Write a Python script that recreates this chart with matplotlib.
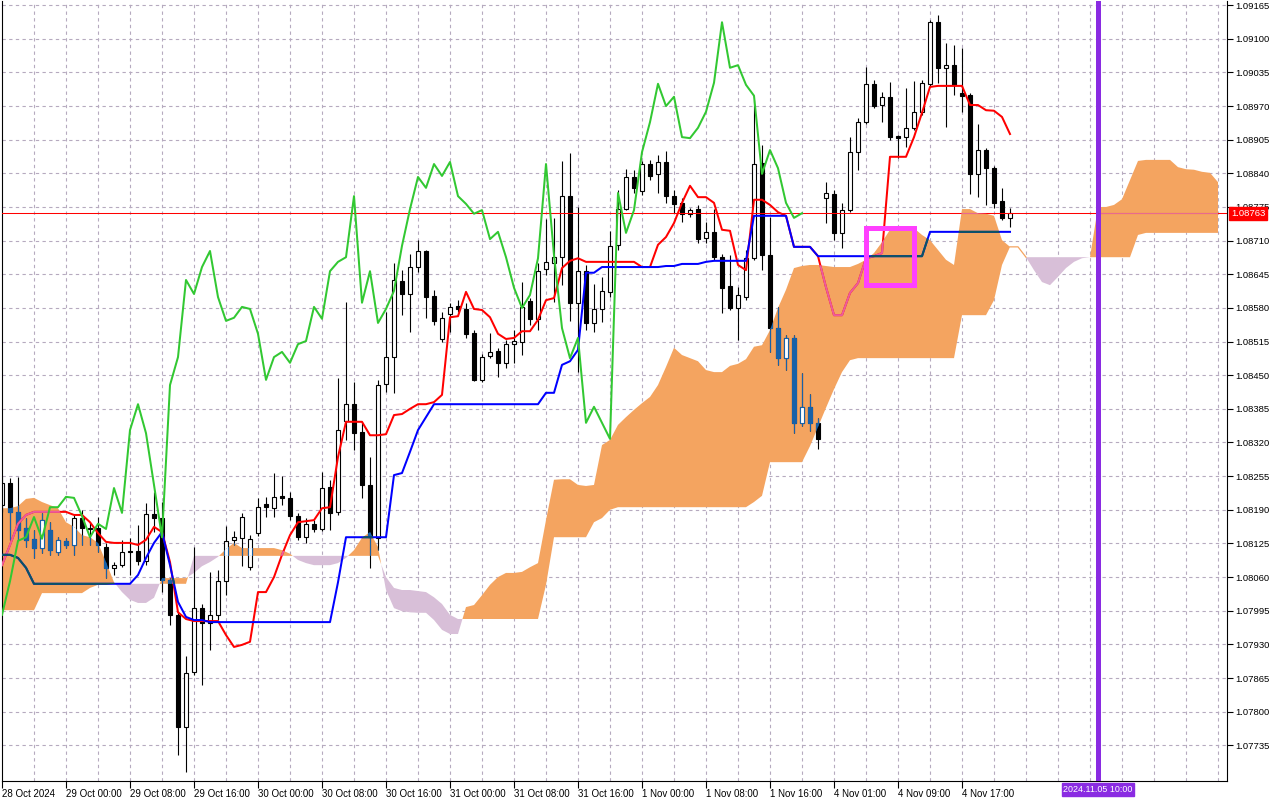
import numpy as np
import matplotlib
matplotlib.use("Agg")
import matplotlib.pyplot as plt
from matplotlib.path import Path
from matplotlib.patches import Rectangle
from matplotlib.transforms import blended_transform_factory

plt.rcParams['font.family'] = ['Liberation Sans', 'DejaVu Sans']

# ---------------- data (EURUSD H1) ----------------
opens = [1.08199, 1.08242, 1.08186, 1.08155, 1.08134, 1.08116, 1.08151, 1.08108, 1.08130, 1.08122,
         1.08174, 1.08155, 1.08155, 1.08118, 1.08078, 1.08083, 1.08110, 1.08110, 1.08091, 1.08182,
         1.08174, 1.08054, 1.07987, 1.07770, 1.07877, 1.08000, 1.07971, 1.07987, 1.08052, 1.08132,
         1.08136, 1.08079, 1.08145, 1.08201, 1.08193, 1.08217, 1.08213, 1.08178, 1.08137, 1.08163,
         1.08153, 1.08234, 1.08186, 1.08362, 1.08394, 1.08340, 1.08238, 1.08136, 1.08433, 1.08485,
         1.08632, 1.08607, 1.08659, 1.08690, 1.08603, 1.08520, 1.08568, 1.08584, 1.08578, 1.08532,
         1.08441, 1.08487, 1.08497, 1.08474, 1.08510, 1.08514, 1.08593, 1.08559, 1.08655, 1.08667,
         1.08678, 1.08796, 1.08590, 1.08651, 1.08551, 1.08578, 1.08611, 1.08702, 1.08771, 1.08833,
         1.08806, 1.08858, 1.08839, 1.08862, 1.08796, 1.08783, 1.08762, 1.08771, 1.08715, 1.08727,
         1.08678, 1.08622, 1.08580, 1.08601, 1.08676, 1.08860, 1.08682, 1.08541, 1.08483, 1.08522,
         1.08358, 1.08389, 1.08358, 1.08792, 1.08800, 1.08725, 1.08769, 1.08881, 1.08939, 1.09013,
         1.08972, 1.08988, 1.08912, 1.08910, 1.08928, 1.08959, 1.09013, 1.09132, 1.09044, 1.09049,
         1.08995, 1.08991, 1.08839, 1.08885, 1.08850, 1.08787, 1.08754]
highs = [1.08255, 1.08251, 1.08253, 1.08174, 1.08151, 1.08184, 1.08166, 1.08137, 1.08136, 1.08180,
         1.08190, 1.08166, 1.08176, 1.08126, 1.08089, 1.08132, 1.08136, 1.08161, 1.08203, 1.08224,
         1.08205, 1.08058, 1.07992, 1.07907, 1.08118, 1.08008, 1.08070, 1.08074, 1.08159, 1.08149,
         1.08184, 1.08141, 1.08213, 1.08215, 1.08261, 1.08255, 1.08224, 1.08184, 1.08174, 1.08170,
         1.08263, 1.08248, 1.08445, 1.08592, 1.08437, 1.08360, 1.08292, 1.08441, 1.08572, 1.08667,
         1.08653, 1.08684, 1.08711, 1.08692, 1.08615, 1.08572, 1.08590, 1.08595, 1.08590, 1.08537,
         1.08491, 1.08532, 1.08503, 1.08518, 1.08537, 1.08630, 1.08599, 1.08667, 1.08752, 1.08754,
         1.08864, 1.08879, 1.08775, 1.08663, 1.08626, 1.08640, 1.08729, 1.08808, 1.08848, 1.08847,
         1.08864, 1.08866, 1.08876, 1.08883, 1.08808, 1.08792, 1.08773, 1.08779, 1.08746, 1.08771,
         1.08684, 1.08682, 1.08620, 1.08692, 1.08982, 1.08895, 1.08756, 1.08582, 1.08528, 1.08528,
         1.08454, 1.08414, 1.08367, 1.08823, 1.08808, 1.08783, 1.08910, 1.08947, 1.09046, 1.09020,
         1.08997, 1.09017, 1.08914, 1.09005, 1.09018, 1.09020, 1.09136, 1.09146, 1.09092, 1.09088,
         1.09082, 1.08995, 1.08935, 1.08889, 1.08854, 1.08812, 1.08773]
lows = [1.08186, 1.08132, 1.08132, 1.08118, 1.08097, 1.08107, 1.08103, 1.08103, 1.08116, 1.08103,
        1.08122, 1.08122, 1.08108, 1.08058, 1.08064, 1.08079, 1.08064, 1.08083, 1.08083, 1.08147,
        1.08031, 1.07967, 1.07716, 1.07683, 1.07871, 1.07851, 1.07919, 1.07977, 1.08025, 1.08122,
        1.08081, 1.08074, 1.08139, 1.08176, 1.08176, 1.08199, 1.08170, 1.08132, 1.08126, 1.08147,
        1.08149, 1.08151, 1.08180, 1.08325, 1.08306, 1.08213, 1.08078, 1.08112, 1.08418, 1.08416,
        1.08566, 1.08534, 1.08649, 1.08561, 1.08547, 1.08514, 1.08534, 1.08572, 1.08522, 1.08439,
        1.08437, 1.08483, 1.08447, 1.08464, 1.08474, 1.08489, 1.08547, 1.08537, 1.08644, 1.08591,
        1.08624, 1.08555, 1.08456, 1.08537, 1.08534, 1.08553, 1.08601, 1.08692, 1.08769, 1.08802,
        1.08798, 1.08827, 1.08802, 1.08783, 1.08763, 1.08746, 1.08756, 1.08705, 1.08705, 1.08673,
        1.08570, 1.08576, 1.08518, 1.08595, 1.08673, 1.08653, 1.08495, 1.08470, 1.08460, 1.08338,
        1.08352, 1.08342, 1.08307, 1.08744, 1.08711, 1.08696, 1.08765, 1.08847, 1.08935, 1.08966,
        1.08939, 1.08904, 1.08870, 1.08891, 1.08924, 1.08953, 1.09009, 1.09015, 1.08930, 1.08991,
        1.08959, 1.08800, 1.08794, 1.08779, 1.08773, 1.08750, 1.08736]
closes = [1.08242, 1.08186, 1.08151, 1.08132, 1.08116, 1.08170, 1.08112, 1.08132, 1.08122, 1.08174,
          1.08155, 1.08153, 1.08122, 1.08078, 1.08083, 1.08108, 1.08108, 1.08091, 1.08182, 1.08174,
          1.08054, 1.07987, 1.07770, 1.07875, 1.08000, 1.07971, 1.07987, 1.08052, 1.08130, 1.08137,
          1.08176, 1.08134, 1.08195, 1.08195, 1.08215, 1.08213, 1.08178, 1.08137, 1.08163, 1.08153,
          1.08232, 1.08184, 1.08344, 1.08394, 1.08338, 1.08238, 1.08137, 1.08431, 1.08485, 1.08634,
          1.08607, 1.08659, 1.08690, 1.08601, 1.08555, 1.08561, 1.08582, 1.08578, 1.08530, 1.08441,
          1.08485, 1.08495, 1.08474, 1.08510, 1.08516, 1.08582, 1.08559, 1.08651, 1.08669, 1.08678,
          1.08796, 1.08590, 1.08651, 1.08551, 1.08578, 1.08613, 1.08700, 1.08771, 1.08833, 1.08812,
          1.08858, 1.08835, 1.08862, 1.08796, 1.08781, 1.08762, 1.08769, 1.08713, 1.08727, 1.08678,
          1.08619, 1.08580, 1.08605, 1.08676, 1.08858, 1.08682, 1.08541, 1.08483, 1.08522, 1.08358,
          1.08389, 1.08358, 1.08327, 1.08802, 1.08725, 1.08769, 1.08881, 1.08939, 1.09013, 1.08970,
          1.08988, 1.08910, 1.08908, 1.08928, 1.08959, 1.09015, 1.09132, 1.09044, 1.09049, 1.09011,
          1.08990, 1.08839, 1.08885, 1.08850, 1.08783, 1.08754, 1.08763]

tenkan = [1.08083, 1.08122, 1.08163, 1.08180, 1.08186, 1.08186, 1.08186, 1.08186, 1.08186, 1.08180,
          1.08180, 1.08166, 1.08145, 1.08128, 1.08126, 1.08126, 1.08126, 1.08122, 1.08132, 1.08157,
          1.08147, 1.08089, 1.07992, 1.07979, 1.07975, 1.07975, 1.07975, 1.07975, 1.07948, 1.07925,
          1.07929, 1.07935, 1.08031, 1.08031, 1.08060, 1.08103, 1.08141, 1.08166, 1.08168, 1.08170,
          1.08193, 1.08195, 1.08292, 1.08360, 1.08360, 1.08360, 1.08334, 1.08334, 1.08336, 1.08373,
          1.08375, 1.08385, 1.08394, 1.08394, 1.08398, 1.08412, 1.08562, 1.08564, 1.08611, 1.08578,
          1.08576, 1.08562, 1.08530, 1.08520, 1.08522, 1.08535, 1.08535, 1.08557, 1.08595, 1.08599,
          1.08657, 1.08671, 1.08676, 1.08669, 1.08669, 1.08669, 1.08669, 1.08669, 1.08669, 1.08669,
          1.08659, 1.08659, 1.08702, 1.08717, 1.08744, 1.08783, 1.08816, 1.08794, 1.08794, 1.08783,
          1.08731, 1.08729, 1.08663, 1.08653, 1.08789, 1.08789, 1.08779, 1.08765, 1.08758, 1.08698,
          1.08698, 1.08698, 1.08680, 1.08620, 1.08566, 1.08566, 1.08609, 1.08628, 1.08676, 1.08680,
          1.08686, 1.08872, 1.08872, 1.08872, 1.08910, 1.08957, 1.09007, 1.09009, 1.09009, 1.09009,
          1.09009, 1.08972, 1.08972, 1.08962, 1.08961, 1.08949, 1.08916]
kijun = [1.08103, 1.08103, 1.08097, 1.08078, 1.08047, 1.08047, 1.08047, 1.08047, 1.08047, 1.08047,
         1.08047, 1.08047, 1.08047, 1.08047, 1.08047, 1.08047, 1.08047, 1.08064, 1.08097, 1.08126,
         1.08147, 1.08083, 1.08012, 1.07983, 1.07977, 1.07977, 1.07973, 1.07973, 1.07973, 1.07973,
         1.07973, 1.07973, 1.07973, 1.07973, 1.07973, 1.07973, 1.07973, 1.07973, 1.07973, 1.07973,
         1.07973, 1.07973, 1.08050, 1.08137, 1.08137, 1.08137, 1.08137, 1.08137, 1.08137, 1.08257,
         1.08261, 1.08302, 1.08344, 1.08369, 1.08394, 1.08394, 1.08394, 1.08394, 1.08394, 1.08394,
         1.08394, 1.08394, 1.08394, 1.08394, 1.08394, 1.08394, 1.08394, 1.08394, 1.08416, 1.08416,
         1.08470, 1.08477, 1.08499, 1.08648, 1.08648, 1.08659, 1.08659, 1.08659, 1.08659, 1.08659,
         1.08659, 1.08659, 1.08659, 1.08661, 1.08661, 1.08665, 1.08665, 1.08665, 1.08669, 1.08671,
         1.08671, 1.08671, 1.08671, 1.08671, 1.08758, 1.08758, 1.08758, 1.08758, 1.08758, 1.08698,
         1.08698, 1.08698, 1.08680, 1.08680, 1.08680, 1.08680, 1.08680, 1.08680, 1.08680, 1.08680,
         1.08680, 1.08680, 1.08680, 1.08680, 1.08680, 1.08680, 1.08727, 1.08727, 1.08727, 1.08727,
         1.08727, 1.08727, 1.08727, 1.08727, 1.08727, 1.08727, 1.08727]
# Senkou spans, already shifted 26 bars ahead (127 + 26 values)
span_a = [1.08193, 1.08193, 1.08197, 1.08211, 1.08213, 1.08205, 1.08199, 1.08193, 1.08166, 1.08157,
          1.08141, 1.08137, 1.08126, 1.08089, 1.08050, 1.08031, 1.08016, 1.08010, 1.08010, 1.08020,
          1.08058, 1.08058, 1.08058, 1.08058, 1.08068, 1.08081, 1.08089, 1.08099, 1.08114, 1.08126,
          1.08116, 1.08116, 1.08116, 1.08116, 1.08116, 1.08112, 1.08105, 1.08093, 1.08087, 1.08083,
          1.08083, 1.08083, 1.08087, 1.08097, 1.08112, 1.08136, 1.08147, 1.08118, 1.08035, 1.08000,
          1.07994, 1.07992, 1.07991, 1.07991, 1.07977, 1.07958, 1.07950, 1.07950, 1.08002, 1.08006,
          1.08025, 1.08045, 1.08060, 1.08068, 1.08068, 1.08070, 1.08079, 1.08087, 1.08170, 1.08248,
          1.08249, 1.08249, 1.08238, 1.08236, 1.08238, 1.08315, 1.08325, 1.08354, 1.08369, 1.08383,
          1.08396, 1.08408, 1.08431, 1.08466, 1.08503, 1.08489, 1.08483, 1.08477, 1.08460, 1.08456,
          1.08456, 1.08468, 1.08472, 1.08481, 1.08505, 1.08508, 1.08537, 1.08580, 1.08615, 1.08657,
          1.08661, 1.08663, 1.08663, 1.08661, 1.08659, 1.08659, 1.08659, 1.08665, 1.08673, 1.08686,
          1.08707, 1.08731, 1.08736, 1.08736, 1.08734, 1.08721, 1.08711, 1.08692, 1.08673, 1.08663,
          1.08771, 1.08771, 1.08763, 1.08762, 1.08758, 1.08711, 1.08698, 1.08698, 1.08678, 1.08653,
          1.08630, 1.08624, 1.08640, 1.08657, 1.08669, 1.08676, 1.08678, 1.08775, 1.08775, 1.08779,
          1.08790, 1.08827, 1.08864, 1.08866, 1.08866, 1.08866, 1.08866, 1.08852, 1.08848, 1.08847,
          1.08843, 1.08841, 1.08823]
span_b = [1.07996, 1.07996, 1.07996, 1.07996, 1.07996, 1.08029, 1.08029, 1.08029, 1.08029, 1.08029,
          1.08029, 1.08039, 1.08045, 1.08045, 1.08047, 1.08047, 1.08047, 1.08047, 1.08047, 1.08047,
          1.08047, 1.08047, 1.08047, 1.08047, 1.08101, 1.08101, 1.08101, 1.08101, 1.08101, 1.08101,
          1.08101, 1.08101, 1.08101, 1.08101, 1.08101, 1.08101, 1.08101, 1.08101, 1.08101, 1.08101,
          1.08101, 1.08101, 1.08101, 1.08101, 1.08101, 1.08101, 1.08101, 1.08101, 1.08060, 1.08039,
          1.08035, 1.08035, 1.08033, 1.08031, 1.08021, 1.08008, 1.07987, 1.07979, 1.07979, 1.07979,
          1.07979, 1.07979, 1.07979, 1.07979, 1.07979, 1.07979, 1.07979, 1.07979, 1.08045, 1.08137,
          1.08137, 1.08137, 1.08137, 1.08137, 1.08166, 1.08174, 1.08190, 1.08195, 1.08195, 1.08195,
          1.08195, 1.08195, 1.08195, 1.08195, 1.08195, 1.08195, 1.08195, 1.08195, 1.08195, 1.08195,
          1.08195, 1.08195, 1.08195, 1.08195, 1.08205, 1.08217, 1.08282, 1.08282, 1.08282, 1.08282,
          1.08282, 1.08313, 1.08350, 1.08387, 1.08423, 1.08456, 1.08479, 1.08483, 1.08483, 1.08483,
          1.08483, 1.08483, 1.08483, 1.08483, 1.08483, 1.08483, 1.08483, 1.08483, 1.08483, 1.08483,
          1.08566, 1.08566, 1.08566, 1.08566, 1.08595, 1.08663, 1.08698, 1.08698, 1.08678, 1.08678,
          1.08678, 1.08678, 1.08678, 1.08678, 1.08678, 1.08678, 1.08678, 1.08678, 1.08678, 1.08678,
          1.08678, 1.08678, 1.08721, 1.08725, 1.08725, 1.08725, 1.08725, 1.08725, 1.08725, 1.08725,
          1.08725, 1.08725, 1.08725]
chikou_shift = 26

price_ticks = [1.07735, 1.07800, 1.07865, 1.07930, 1.07995, 1.08060, 1.08125, 1.08190,
               1.08255, 1.08320, 1.08385, 1.08450, 1.08515, 1.08580, 1.08645, 1.08710,
               1.08775, 1.08840, 1.08905, 1.08970, 1.09035, 1.09100, 1.09165]
time_label_bars = [0, 8, 16, 24, 32, 40, 48, 56, 64, 72, 80, 88, 96, 104, 112, 120]
time_labels = ['28 Oct 2024', '29 Oct 00:00', '29 Oct 08:00', '29 Oct 16:00', '30 Oct 00:00',
               '30 Oct 08:00', '30 Oct 16:00', '31 Oct 00:00', '31 Oct 08:00', '31 Oct 16:00',
               '1 Nov 00:00', '1 Nov 08:00', '1 Nov 16:00', '4 Nov 01:00', '4 Nov 09:00',
               '4 Nov 17:00']
marker_bar = 137
marker_label = '2024.11.05 10:00'
box_bars = (108.06, 114.06)
box_prices = (1.08625, 1.08735)

# ---------------- figure ----------------
o = np.array(opens); h = np.array(highs); l = np.array(lows); c = np.array(closes)
n = len(c)
idx = np.arange(n)
A = np.array(span_a); B = np.array(span_b)
xc = np.arange(len(A))

fig = plt.figure(figsize=(12.8, 8), dpi=100)
fig.patch.set_facecolor('white')
ax = fig.add_axes([2 / 1280, 19 / 800, 1225 / 1280, 780 / 800])
ax.set_xlim(0, 153.125)
ax.set_ylim(1.07666, 1.09173)

grid_col = '#b6aabf'
for p in price_ticks:
    ax.axhline(p, color=grid_col, lw=0.8, ls=(0, (3, 3)), zorder=0)
for gx in range(4, len(A), 4):
    ax.axvline(gx, color=grid_col, lw=0.8, ls=(0, (3, 3)), zorder=0)

# cloud
orange = ax.fill_between(xc, A, B, where=A >= B, interpolate=True,
                         facecolor='#f4a460', edgecolor='none', zorder=1)
ax.fill_between(xc, A, B, where=A < B, interpolate=True,
                facecolor='#d8bfd8', edgecolor='none', zorder=1)
# where the two spans meet, the cloud is only a thin line
thin = np.ma.masked_where(np.abs(A - B) > 0.00001, A)
ax.plot(xc, thin, color='#f4a460', lw=0.9, zorder=1.1)
cpaths = [p for p in orange.get_paths() if len(p.vertices) > 2]
clip = Path.make_compound_path(*cpaths)

# candles
bull = c >= o
bot = np.minimum(o, c)
hgt = np.maximum(np.abs(c - o), 0.000004)
ax.vlines(idx, l, h, color='black', lw=0.8, zorder=2)
ax.bar(idx, hgt, bottom=bot, width=0.62, color=np.where(bull, 'white', 'black'),
       edgecolor='black', linewidth=0.8, zorder=2.1)
# candles as seen through the cloud
blue = '#1861a8'
w2 = ax.vlines(idx, l, h, color=blue, lw=0.8, zorder=2.5)
w2.set_clip_path(clip, ax.transData)
bars2 = ax.bar(idx, hgt, bottom=bot, width=0.62, color=np.where(bull, 'white', blue),
               edgecolor=blue, linewidth=0.8, zorder=2.6)
for p in bars2:
    p.set_clip_path(clip, ax.transData)

# current price line
ax.axhline(c[-1], color='#ff0000', lw=0.75, zorder=2.8)
cp = ax.axhline(c[-1], color='#e86a8e', lw=0.75, zorder=2.85)
cp.set_clip_path(clip, ax.transData)

# Ichimoku lines
ax.plot(idx, tenkan, color='#ff0000', lw=1.45, zorder=3.0, solid_joinstyle='round')
t2, = ax.plot(idx, tenkan, color='#ec5c9c', lw=1.45, zorder=3.05, solid_joinstyle='round')
t2.set_clip_path(clip, ax.transData)
ax.plot(idx, kijun, color='#0000ff', lw=1.45, zorder=3.1, solid_joinstyle='round')
k2, = ax.plot(idx, kijun, color='#0c5560', lw=1.45, zorder=3.15, solid_joinstyle='round')
k2.set_clip_path(clip, ax.transData)
ax.plot(idx[:n - chikou_shift], c[chikou_shift:], color='#32c832', lw=1.45, zorder=3.2,
        solid_joinstyle='round')

# annotations
ax.add_patch(Rectangle((box_bars[0], box_prices[0]), box_bars[1] - box_bars[0],
                       box_prices[1] - box_prices[0], fill=False, edgecolor='#ff40ff',
                       lw=3.6, joinstyle='miter', zorder=4))
ax.axvline(marker_bar, color='#8a2be2', lw=3.6, zorder=4)

# axes styling
ax.spines['top'].set_visible(False)
for s in ['left', 'right', 'bottom']:
    ax.spines[s].set_color('black')
    ax.spines[s].set_linewidth(0.8)
ax.yaxis.tick_right()
ax.set_yticks(price_ticks)
ax.set_yticklabels([f'{p:.5f}' for p in price_ticks])
ax.tick_params(axis='y', direction='out', length=4, width=0.8, pad=2, labelsize=6.8,
               colors='black')
ax.set_xticks(time_label_bars)
ax.set_xticklabels(time_labels)
ax.tick_params(axis='x', direction='out', length=5, width=0.8, pad=0.5, labelsize=7.0,
               colors='black')
for lbl in ax.get_xticklabels():
    lbl.set_horizontalalignment('left')

trans = blended_transform_factory(ax.transAxes, ax.transData)
ax.annotate(f'{c[-1]:.5f}', xy=(1, c[-1]), xycoords=trans, xytext=(3, 0),
            textcoords='offset points', va='center', ha='left', fontsize=6.8, color='white',
            bbox=dict(boxstyle='square,pad=0.2', facecolor='#ff0000', edgecolor='#ff0000'),
            zorder=10, annotation_clip=False)
trans2 = blended_transform_factory(ax.transData, ax.transAxes)
ax.annotate(marker_label, xy=(marker_bar, 0), xycoords=trans2, xytext=(0, -3),
            textcoords='offset points', va='top', ha='center', fontsize=6.4, color='white',
            bbox=dict(boxstyle='square,pad=0.2', facecolor='#8a2be2', edgecolor='#8a2be2'),
            zorder=10, annotation_clip=False)

fig.savefig('out.png', dpi=100, facecolor='white')
